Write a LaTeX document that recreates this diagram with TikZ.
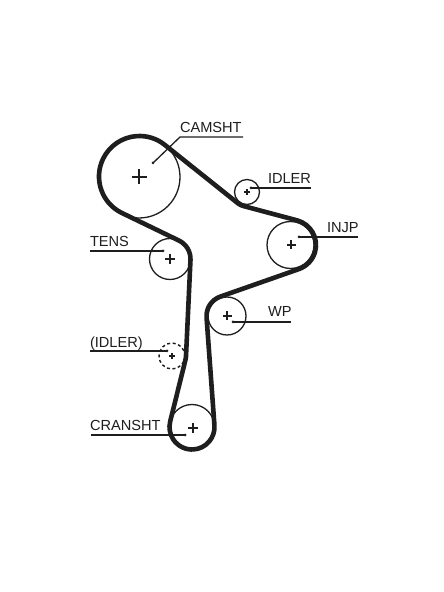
\documentclass[tikz,border=0pt]{standalone}
\usepackage{fontspec}
\setmainfont{Liberation Sans}
\definecolor{ink}{HTML}{1E1E1E}
% tangent angle between two signed-radius circles: name x1 y1 sr1 x2 y2 sr2
\newcommand\tangentleg[7]{%
  \pgfmathsetmacro{\tmpphi}{atan2(#6-#3,#5-#2)}%
  \pgfmathsetmacro{\tmplen}{veclen(#5-#2,#6-#3)}%
  \pgfmathsetmacro{\tmpth}{\tmpphi-acos((#4-(#7))/\tmplen)}%
  \expandafter\xdef\csname th#1\endcsname{\tmpth}%
}
% arc data: name x y r sign thetaIn thetaOut
\newcommand\arcdata[7]{%
  \ifnum#5>0
    \pgfmathsetmacro{\tmps}{#6}%
    \pgfmathsetmacro{\tmpe}{\tmps+mod(#7-(#6)+720,360)}%
  \else
    \pgfmathsetmacro{\tmps}{#6+180}%
    \pgfmathsetmacro{\tmpe}{\tmps-mod(#6-(#7)+720,360)}%
  \fi
  \pgfmathsetmacro{\tmpx}{#2+#4*cos(\tmps)}%
  \pgfmathsetmacro{\tmpy}{#3+#4*sin(\tmps)}%
  \expandafter\xdef\csname sx#1\endcsname{\tmpx}%
  \expandafter\xdef\csname sy#1\endcsname{\tmpy}%
  \expandafter\xdef\csname as#1\endcsname{\tmps}%
  \expandafter\xdef\csname ae#1\endcsname{\tmpe}%
  \expandafter\xdef\csname ar#1\endcsname{#4}%
}
\newcommand\beltpart[1]{(\csname sx#1\endcsname,\csname sy#1\endcsname) arc[start angle=\csname as#1\endcsname,end angle=\csname ae#1\endcsname,radius=\csname ar#1\endcsname]}
\tikzset{
  belt/.style={line width=4.6pt,draw=ink,line join=round},
  pulley/.style={line width=1.3pt,draw=ink},
  dashedpulley/.style={line width=1.4pt,draw=ink,dash pattern=on 3pt off 2.6pt},
  leader/.style={line width=1.3pt,draw=ink},
  crossmark/.style={line width=1.2pt,draw=ink},
  dotmark/.style={fill=ink,draw=none},
  lab/.style={anchor=base west,inner sep=0pt,outer sep=0pt,text=ink,font=\fontsize{14.6}{14.6}\selectfont},
}
\newcommand\crossat[3]{\draw[crossmark] (#1-#3,#2) -- (#1+#3,#2) (#1,#2-#3) -- (#1,#2+#3);}
\begin{document}
\begin{tikzpicture}[x=1pt,y=1pt]
\useasboundingbox (0,0) rectangle (444,592);
\fill[white] (0,0) rectangle (444,592);
\begin{scope}[yshift=592pt,yscale=-1]
% belt geometry
\tangentleg{AB}{139.5}{176.5}{40.5}{247}{192}{-14.5}
\tangentleg{BC}{247}{192}{-14.5}{290.5}{245}{25.5}
\tangentleg{CD}{290.5}{245}{25.5}{227}{316}{-20.5}
\tangentleg{DE}{227}{316}{-20.5}{192}{427}{22.5}
\tangentleg{EF}{192}{427}{22.5}{172}{356}{-14}
\tangentleg{FG}{172}{356}{-14}{170}{259}{-20.5}
\tangentleg{GA}{170}{259}{-20.5}{139.5}{176.5}{40.5}
\arcdata{A}{139.5}{176.5}{40.5}{1}{\thGA}{\thAB}
\arcdata{B}{247}{192}{14.5}{-1}{\thAB}{\thBC}
\arcdata{C}{290.5}{245}{25.5}{1}{\thBC}{\thCD}
\arcdata{D}{227}{316}{20.5}{-1}{\thCD}{\thDE}
\arcdata{E}{192}{427}{22.5}{1}{\thDE}{\thEF}
\arcdata{F}{172}{356}{14}{-1}{\thEF}{\thFG}
\arcdata{G}{170}{259}{20.5}{-1}{\thFG}{\thGA}
% pulleys
\draw[pulley] (139,177) circle[radius=41];
\draw[pulley] (247,192) circle[radius=12.5];
\draw[pulley] (290.5,245) circle[radius=23.5];
\draw[pulley] (227,316) circle[radius=19];
\draw[pulley] (170,259) circle[radius=20.5];
\draw[pulley] (192,427) circle[radius=22.5];
\draw[dashedpulley] (172,356) circle[radius=13];
% belt
\draw[belt] \beltpart{A} -- \beltpart{B} -- \beltpart{C} -- \beltpart{D} -- \beltpart{E} -- \beltpart{F} -- \beltpart{G} -- cycle;
% centre marks
\crossat{139}{177}{7.5}
\crossat{247}{192}{3}
\crossat{291}{245}{4.5}
\crossat{227}{316}{4.5}
\crossat{170}{259}{5}
\crossat{172}{356}{3}
\crossat{193}{428}{5}
% leader anchors
\coordinate (camdot) at (153,163);
\coordinate (camknee) at (180,137);
\coordinate (camend) at (243,137);
\coordinate (idldot) at (251,188);
\coordinate (idlend) at (311,188);
\coordinate (injdot) at (299,237);
\coordinate (injend) at (358,237);
\coordinate (wpdot) at (233,322);
\coordinate (wpend) at (291,322);
\coordinate (tensdot) at (163,251);
\coordinate (tensend) at (90,251);
\coordinate (idl2dot) at (167,351);
\coordinate (idl2end) at (90,351);
\coordinate (cradot) at (185,435);
\coordinate (craend) at (91,435);
\draw[leader] (camdot) -- (camknee) -- (camend);
\draw[leader] (idldot) -- (idlend);
\draw[leader] (injdot) -- (injend);
\draw[leader] (wpdot) -- (wpend);
\draw[leader] (tensdot) -- (tensend);
\draw[leader] (idl2dot) -- (idl2end);
\draw[leader] (cradot) -- (craend);
\foreach \p in {camdot,idldot,injdot,wpdot,tensdot,idl2dot,cradot}
  \fill[dotmark] (\p) circle[radius=1.5];
\end{scope}
% labels (y measured upward)
\node[lab] (lcam) at (180,459) {CAMSHT};
\node[lab] (lidl) at (268,408) {IDLER};
\node[lab] (linj) at (327,359) {INJP};
\node[lab] (lwp) at (268,275) {WP};
\node[lab] (lten) at (90,345) {TENS};
\node[lab] (lid2) at (90,244) {(IDLER)};
\node[lab] (lcra) at (90,161) {CRANSHT};
\end{tikzpicture}
\end{document}
